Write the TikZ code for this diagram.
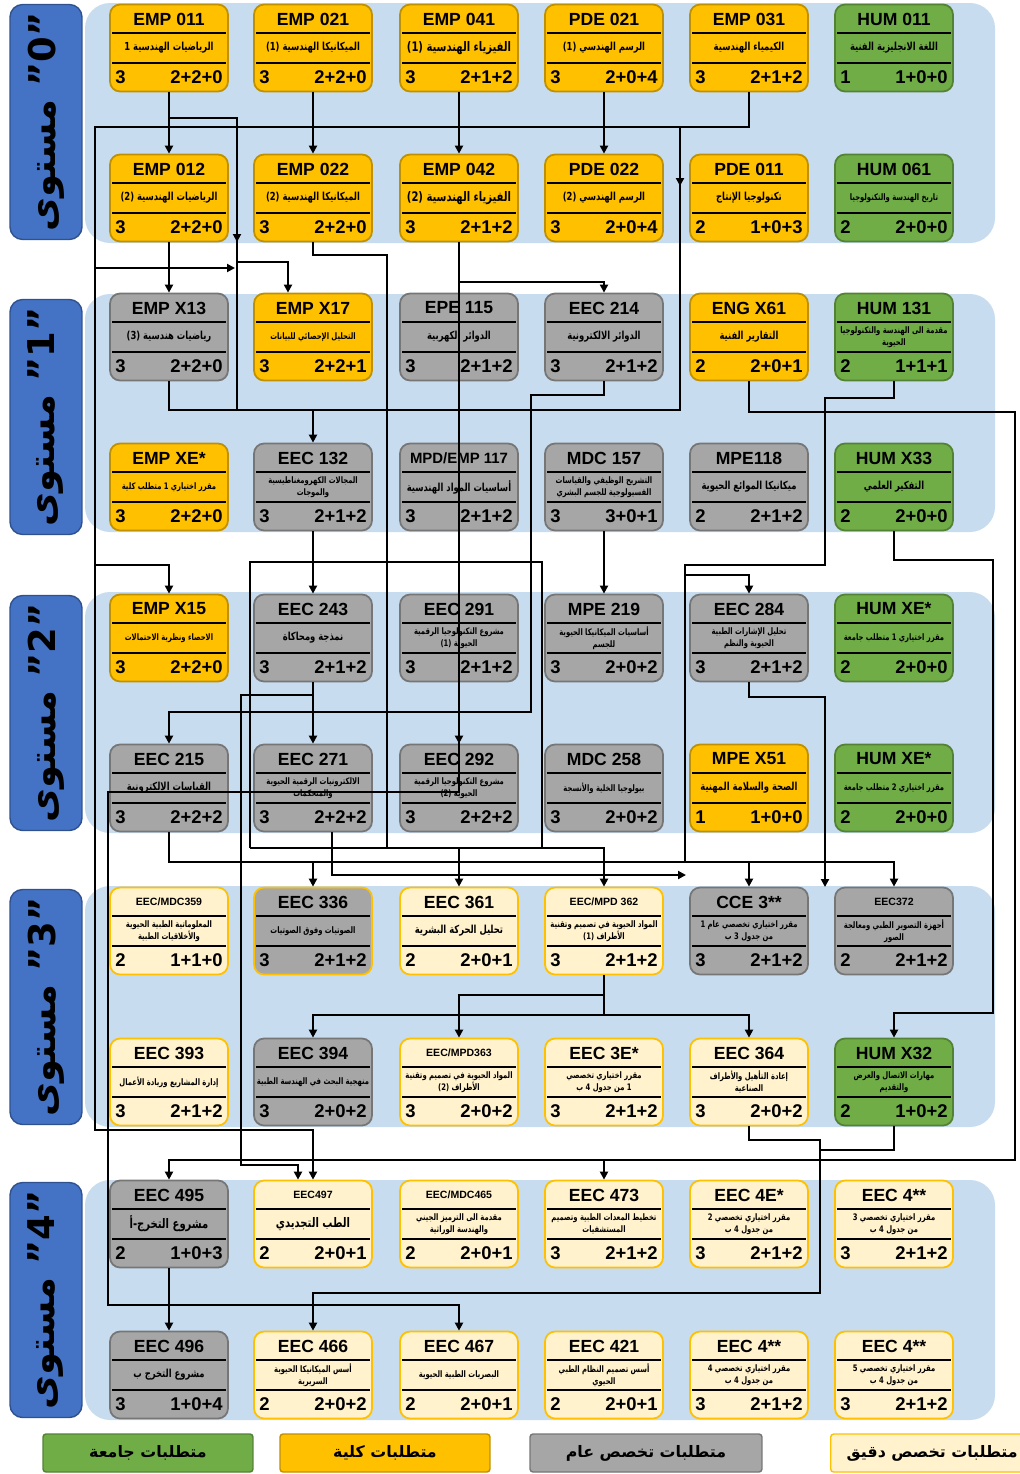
\documentclass[tikz,border=0pt]{standalone}
\usepackage{fontspec}
\setmainfont{Liberation Sans}
\newfontfamily\arabicfont[Script=Arabic]{DejaVu Sans}
\newfontfamily\arabicnarrow[Script=Arabic,FakeStretch=0.76]{DejaVu Sans}
\TeXXeTstate=1
\usetikzlibrary{arrows.meta}

\definecolor{kulya}{RGB}{255,192,0}
\definecolor{kulyaline}{RGB}{191,144,0}
\definecolor{jamia}{RGB}{112,173,71}
\definecolor{jamialine}{RGB}{84,130,53}
\definecolor{aam}{RGB}{166,166,166}
\definecolor{aamline}{RGB}{118,118,118}
\definecolor{daqiq}{RGB}{255,242,204}
\definecolor{daqiqline}{RGB}{255,192,0}
\definecolor{lvlbg}{RGB}{200,220,240}
\definecolor{lvlblue}{RGB}{68,114,196}
\definecolor{lvlline}{RGB}{47,82,143}

\newcommand\ar[1]{\beginR #1\endR}
\newcommand\sz{\fontsize{5.1}{6}\selectfont}
\newcommand\sm[1]{{\fontsize{6}{7}\selectfont #1}}
\newcommand\bg[1]{{\fontsize{7.5}{9}\selectfont #1}}

% one course box: name, x, y, style, code, title, credits, hours
\newcommand\course[8]{%
  \node[crs,#4] (#1) at (#2,#3) {};
  \draw[sep] ({#2-57},{#3-15}) -- ({#2+57},{#3-15});
  \draw[sep] ({#2-57},{#3+15}) -- ({#2+57},{#3+15});
  \node[code] (#1c) at (#2,{#3-29}) {#5};
  \node[desc] (#1d) at (#2,#3) {#6};
  \node[num,anchor=west] (#1k) at ({#2-54},{#3+29}) {#7};
  \node[num,anchor=east] (#1h) at ({#2+54},{#3+29}) {#8};
}

\begin{document}
\begin{tikzpicture}[x=0.02cm,y=-0.02cm,
  crs/.style={draw,line width=1pt,rounded corners=0.2cm,minimum width=2.36cm,minimum height=1.74cm,inner sep=0pt},
  kul/.style={fill=kulya,draw=kulyaline},
  jam/.style={fill=jamia,draw=jamialine},
  aam/.style={fill=aam,draw=aamline},
  aamg/.style={fill=aam,draw=daqiqline},
  daq/.style={fill=daqiq,draw=daqiqline},
  sep/.style={line width=1.1pt},
  code/.style={font=\bfseries\fontsize{10}{12}\selectfont,inner sep=0pt},
  desc/.style={font=\arabicnarrow\bfseries\fontsize{6.3}{7}\selectfont,align=center,inner sep=0pt},
  num/.style={font=\bfseries\fontsize{10.5}{12}\selectfont,inner sep=0pt},
  arr/.style={line width=1.4pt,-{Triangle[length=4.5pt,width=4.5pt]}},
  lne/.style={line width=1.4pt},
  lvl/.style={draw=lvlline,line width=0.8pt,fill=lvlblue,rounded corners=0.25cm,rotate=90,
    minimum width=4.7cm,minimum height=1.44cm,font=\arabicfont\bfseries\fontsize{21}{24}\selectfont},
  key/.style={draw,line width=0.8pt,rounded corners=0.06cm,minimum height=0.76cm,
    font=\arabicfont\bfseries\fontsize{9}{11}\selectfont,inner sep=0pt}]
\useasboundingbox (0,0) rectangle (1020,1474);

% level bands
\foreach \ya/\yb in {3/243, 294/532, 592/833, 886/1127, 1180/1420}
  \fill[lvlbg,rounded corners=0.5cm] (85,\ya) rectangle (995,\yb);

\node[lvl] (lv0) at (46,122) {\ar{مستوى}{} ”0”};
\node[lvl] (lv1) at (46,417) {\ar{مستوى}{} ”1”};
\node[lvl] (lv2) at (46,713) {\ar{مستوى}{} ”2”};
\node[lvl] (lv3) at (46,1007) {\ar{مستوى}{} ”3”};
\node[lvl] (lv4) at (46,1300) {\ar{مستوى}{} ”4”};

% level 0
\course{emp011}{169}{48}{kul}{EMP 011}{\ar{الرياضيات الهندسية 1}}{3}{2+2+0}
\course{emp021}{313}{48}{kul}{EMP 021}{\ar{الميكانيكا الهندسية (1)}}{3}{2+2+0}
\course{emp041}{459}{48}{kul}{EMP 041}{\bg{\ar{الفيزياء الهندسية (1)}}}{3}{2+1+2}
\course{pde021}{604}{48}{kul}{PDE 021}{\ar{الرسم الهندسي (1)}}{3}{2+0+4}
\course{emp031}{749}{48}{kul}{EMP 031}{\ar{الكيمياء الهندسية}}{3}{2+1+2}
\course{hum011}{894}{48}{jam}{HUM 011}{\ar{اللغة الانجليزية الفنية}}{1}{1+0+0}

\course{emp012}{169}{198}{kul}{EMP 012}{\ar{الرياضيات الهندسية (2)}}{3}{2+2+0}
\course{emp022}{313}{198}{kul}{EMP 022}{\ar{الميكانيكا الهندسية (2)}}{3}{2+2+0}
\course{emp042}{459}{198}{kul}{EMP 042}{\bg{\ar{الفيزياء الهندسية (2)}}}{3}{2+1+2}
\course{pde022}{604}{198}{kul}{PDE 022}{\ar{الرسم الهندسي (2)}}{3}{2+0+4}
\course{pde011}{749}{198}{kul}{PDE 011}{\ar{تكنولوجيا الإنتاج}}{2}{1+0+3}
\course{hum061}{894}{198}{jam}{HUM 061}{\ar{\sz تاريخ الهندسة والتكنولوجيا}}{2}{2+0+0}

% level 1
\course{empx13}{169}{337}{aam}{EMP X13}{\ar{رياضيات هندسية (3)}}{3}{2+2+0}
\course{empx17}{313}{337}{kul}{EMP X17}{\ar{\sz التحليل الإحصائي للبيانات}}{3}{2+2+1}
\course{epe115}{459}{337}{aam}{EPE 115}{\ar{الدوائر الكهربية}}{3}{2+1+2}
\course{eec214}{604}{337}{aam}{EEC 214}{\ar{الدوائر الالكترونية}}{3}{2+1+2}
\course{engx61}{749}{337}{kul}{ENG X61}{\ar{التقارير الفنية}}{2}{2+0+1}
\course{hum131}{894}{337}{jam}{HUM 131}{\ar{\sz مقدمة الى الهندسة والتكنولوجيا}\\\ar{\sz الحيوية}}{2}{1+1+1}

\course{empxe}{169}{487}{kul}{EMP XE*}{\ar{\sz مقرر اختياري 1 متطلب كلية}}{3}{2+2+0}
\course{eec132}{313}{487}{aam}{EEC 132}{\ar{\sz المجالات الكهرومغناطيسية}\\\ar{\sz والموجات}}{3}{2+1+2}
\course{mpd117}{459}{487}{aam}{{\fontsize{8.5}{10}\selectfont MPD/EMP 117}}{\ar{أساسيات المواد الهندسية}}{3}{2+1+2}
\course{mdc157}{604}{487}{aam}{MDC 157}{\ar{\sz التشريح الوظيفي والقياسات}\\\ar{\sz الفسيولوجية للجسم البشري}}{3}{3+0+1}
\course{mpe118}{749}{487}{aam}{MPE118}{\ar{ميكانيكا الموائع الحيوية}}{2}{2+1+2}
\course{humx33}{894}{487}{jam}{HUM X33}{\ar{التفكير العلمي}}{2}{2+0+0}

% level 2
\course{empx15}{169}{638}{kul}{EMP X15}{\ar{\sz الاحصاء ونظرية الاحتمالات}}{3}{2+2+0}
\course{eec243}{313}{638}{aam}{EEC 243}{\ar{نمذجة ومحاكاة}}{3}{2+1+2}
\course{eec291}{459}{638}{aam}{EEC 291}{\ar{\sz مشروع التكنولوجيا الرقمية}\\\ar{\sz الحيوية (1)}}{3}{2+1+2}
\course{mpe219}{604}{638}{aam}{MPE 219}{\ar{\sz أساسيات الميكانيكا الحيوية}\\\ar{\sz للجسم}}{3}{2+0+2}
\course{eec284}{749}{638}{aam}{EEC 284}{\ar{\sz تحليل الإشارات الطبية}\\\ar{\sz الحيوية والنظم}}{3}{2+1+2}
\course{humxe1}{894}{638}{jam}{HUM XE*}{\ar{\sz مقرر اختياري 1 متطلب جامعة}}{2}{2+0+0}

\course{eec215}{169}{788}{aam}{EEC 215}{\ar{القياسات الالكترونية}}{3}{2+2+2}
\course{eec271}{313}{788}{aam}{EEC 271}{\ar{\sz الالكترونيات الرقمية الحيوية}\\\ar{\sz والمتحكمات}}{3}{2+2+2}
\course{eec292}{459}{788}{aam}{EEC 292}{\ar{\sz مشروع التكنولوجيا الرقمية}\\\ar{\sz الحيوية (2)}}{3}{2+2+2}
\course{mdc258}{604}{788}{aam}{MDC 258}{\ar{\sz بيولوجيا الخلية والأنسجة}}{3}{2+0+2}
\course{mpex51}{749}{788}{kul}{MPE X51}{\ar{الصحة والسلامة المهنية}}{1}{1+0+0}
\course{humxe2}{894}{788}{jam}{HUM XE*}{\ar{\sz مقرر اختياري 2 متطلب جامعة}}{2}{2+0+0}

% level 3
\course{eec359}{169}{931}{daq}{\sm{EEC/MDC359}}{\ar{\sz المعلوماتية الطبية الحيوية}\\\ar{\sz والأخلاقيات الطبية}}{2}{1+1+0}
\course{eec336}{313}{931}{aamg}{EEC 336}{\ar{\sz الصوتيات وفوق الصوتيات}}{3}{2+1+2}
\course{eec361}{459}{931}{daq}{EEC 361}{\ar{تحليل الحركة البشرية}}{2}{2+0+1}
\course{eec362}{604}{931}{daq}{\sm{EEC/MPD 362}}{\ar{\sz المواد الحيوية في تصميم وتقنية}\\\ar{\sz الأطراف (1)}}{3}{2+1+2}
\course{cce3}{749}{931}{aam}{CCE 3**}{\ar{\sz مقرر اختياري تخصصي عام 1}\\\ar{\sz من جدول 3 ب}}{3}{2+1+2}
\course{eec372}{894}{931}{aam}{\sm{EEC372}}{\ar{\sz أجهزة التصوير الطبي ومعالجة}\\\ar{\sz الصور}}{2}{2+1+2}

\course{eec393}{169}{1082}{daq}{EEC 393}{\ar{\sz إدارة المشاريع وريادة الأعمال}}{3}{2+1+2}
\course{eec394}{313}{1082}{aam}{EEC 394}{\ar{\sz منهجية البحث في الهندسة الطبية}}{3}{2+0+2}
\course{eec363}{459}{1082}{daq}{\sm{EEC/MPD363}}{\ar{\sz المواد الحيوية في تصميم وتقنية}\\\ar{\sz الأطراف (2)}}{3}{2+0+2}
\course{eec3e}{604}{1082}{daq}{EEC 3E*}{\ar{\sz مقرر اختياري تخصصي}\\\ar{\sz 1 من جدول 4 ب}}{3}{2+1+2}
\course{eec364}{749}{1082}{daq}{EEC 364}{\ar{\sz إعادة التأهيل والأطراف}\\\ar{\sz الصناعية}}{3}{2+0+2}
\course{humx32}{894}{1082}{jam}{HUM X32}{\ar{\sz مهارات الاتصال والعرض}\\\ar{\sz والتقديم}}{2}{1+0+2}

% level 4
\course{eec495}{169}{1224}{aam}{EEC 495}{\bg{\ar{مشروع التخرج-أ}}}{2}{1+0+3}
\course{eec497}{313}{1224}{daq}{\sm{EEC497}}{\bg{\ar{الطب التجديدي}}}{2}{2+0+1}
\course{eec465}{459}{1224}{daq}{\sm{EEC/MDC465}}{\ar{\sz مقدمة الى الترميز الجيني}\\\ar{\sz والهندسة الوراثية}}{2}{2+0+1}
\course{eec473}{604}{1224}{daq}{EEC 473}{\ar{\sz تخطيط المعدات الطبية وتصميم}\\\ar{\sz المستشفيات}}{3}{2+1+2}
\course{eec4e}{749}{1224}{daq}{EEC 4E*}{\ar{\sz مقرر اختياري تخصصي 2}\\\ar{\sz من جدول 4 ب}}{3}{2+1+2}
\course{eec4a}{894}{1224}{daq}{EEC 4**}{\ar{\sz مقرر اختياري تخصصي 3}\\\ar{\sz من جدول 4 ب}}{3}{2+1+2}

\course{eec496}{169}{1375}{aam}{EEC 496}{\ar{مشروع التخرج ب}}{3}{1+0+4}
\course{eec466}{313}{1375}{daq}{EEC 466}{\ar{\sz أسس الميكانيكا الحيوية}\\\ar{\sz السريرية}}{2}{2+0+2}
\course{eec467}{459}{1375}{daq}{EEC 467}{\ar{\sz البصريات الطبية الحيوية}}{2}{2+0+1}
\course{eec421}{604}{1375}{daq}{EEC 421}{\ar{\sz أسس تصميم النظام الطبي}\\\ar{\sz الحيوي}}{2}{2+0+1}
\course{eec4b}{749}{1375}{daq}{EEC 4**}{\ar{\sz مقرر اختياري تخصصي 4}\\\ar{\sz من جدول 4 ب}}{3}{2+1+2}
\course{eec4c}{894}{1375}{daq}{EEC 4**}{\ar{\sz مقرر اختياري تخصصي 5}\\\ar{\sz من جدول 4 ب}}{3}{2+1+2}

% prerequisites
\draw[arr] (emp011.south) -- (emp012.north);
\draw[arr] (emp021.south) -- (emp022.north);
\draw[arr] (emp041.south) -- (emp042.north);
\draw[arr] (pde021.south) -- (pde022.north);
\draw[arr] (emp031.south) |- (95,127) -- (95,1130) -| (eec497.north);
\draw[arr] (95,268) -- (235,268);
\draw[arr] (95,565) -| (empx15.north);
\draw[lne] (169,118) -| (237,410);
\draw[arr] (237,200) -- (237,242);
\draw[arr] (237,262) -| ([xshift=-0.5cm]empx17.north);
\draw[arr] (emp012.south) -- (empx13.north);
\draw[lne] (emp022.south) |- (387,255) -- (387,848);
\draw[arr] (emp042.south) |- (459,282) -| (eec214.north);
\draw[arr] (459,282) |- (108,792) |- (459,1305) -- (eec467.north);
\draw[arr] (empx13.south) -- (169,410) -| (eec132.north);
\draw[lne] (169,410) -| (680,127);
\draw[arr] (680,140) -- (680,186);
\draw[arr] (eec214.south) |- (531,395) |- (169,712) -- (eec215.north);
\draw[arr] (engx61.south) |- (1015,412) |- (169,1160) -- (eec495.north);
\draw[arr] (604,1160) -- (eec473.north);
\draw[lne] (hum131.south) |- (825,398) |- (685,565) -- (685,862);
\draw[arr] (685,575) -| (eec284.north);
\draw[arr] (humx33.south) |- (993,560) |- (894,1013) -- (humx32.north);
\draw[arr] (eec132.south) -- (eec243.north);
\draw[lne] (250,848) |- (542,562) -- (542,848);
\draw[arr] (250,848) -| (eec362.north);
\draw[arr] (459,848) -- (eec361.north);
\draw[arr] (mdc157.south) -- (mpe219.north);
\draw[arr] (eec243.south) -- (eec271.north);
\draw[arr] (313,695) -| (241,1165) -| ([xshift=-0.3cm]eec497.north);
\draw[arr] (eec291.south) -- (eec292.north);
\draw[arr] (eec284.south) |- (825,697) -- (825,887);
\draw[arr] (eec215.south) |- (894,862) -- (eec372.north);
\draw[arr] (313,862) -- (eec336.north);
\draw[arr] (749,862) -- (cce3.north);
\draw[arr] ([xshift=0.38cm]eec271.south) |- (686,875);
\draw[arr] (eec362.south) |- (459,995) -- (eec363.north);
\draw[arr] (604,995) |- (313,1015) -- (eec394.north);
\draw[arr] (604,1015) -| (eec364.north);
\draw[arr] (eec364.south) |- (820,1140) |- (313,1293) -- (eec466.north);
\draw[lne] (humx32.south) |- (820,1150);
\draw[arr] (eec495.south) -- (eec496.north);

% key
\node[key,fill=jamia,draw=jamialine,minimum width=4.2cm] (k1) at (148,1453) {\ar{متطلبات جامعة}};
\node[key,fill=kulya,draw=kulyaline,minimum width=4.2cm] (k2) at (385,1453) {\ar{متطلبات كلية}};
\node[key,fill=aam,draw=aamline,minimum width=4.64cm] (k3) at (646,1453) {\ar{متطلبات تخصص عام}};
\node[key,fill=daqiq,draw=daqiqline,minimum width=4.8cm,anchor=west] (k4) at (830,1453) {};
\node[key,draw=none,anchor=west] (k4t) at (846,1453) {\ar{متطلبات تخصص دقيق}};
\end{tikzpicture}
\end{document}
